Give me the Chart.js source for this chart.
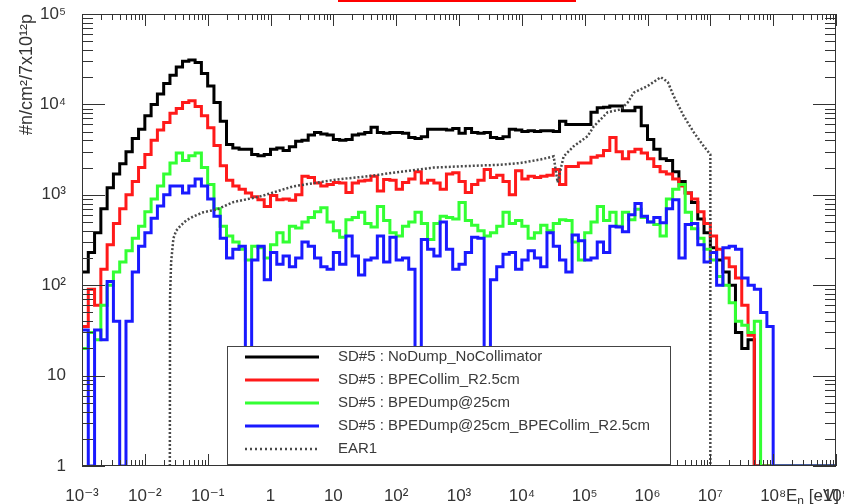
<!DOCTYPE html>
<html><head><meta charset="utf-8">
<script src="https://cdn.jsdelivr.net/npm/chart.js@4/dist/chart.umd.min.js"></script>
<style>html,body{margin:0;padding:0;background:#fff;}canvas{display:block;}</style>
</head><body>
<canvas id="c" width="844" height="504"></canvas>
<script>
// ---- binning of the histograms (log-spaced, 10 bins per decade from 1e-3 eV) ----
const firstEdge = 1e-3;
const binsPerDecade = 10;

// ---- series names ----
const seriesNames = [
  'SD#5 : NoDump_NoCollimator',
  'SD#5 : BPECollim_R2.5cm',
  'SD#5 : BPEDump@25cm',
  'SD#5 : BPEDump@25cm_BPECollim_R2.5cm',
  'EAR1'
];

// ---- flux per bin ----
const noDumpNoCollimator = [
  140,230,380,700,1200,1700,2200,3000,4200,5300,
  7500,10000,13000,17000,21000,26000,30000,31000,29000,22000,
  16000,10500,6500,3600,3300,3200,3200,2800,2700,2800,
  3200,3300,3100,3400,3900,4000,4600,4900,4700,4600,
  4100,4000,4100,4600,4700,4900,5600,4900,4800,4900,
  4900,4800,4300,4200,4400,5300,5300,5300,5200,5400,
  4800,5400,4900,4800,4900,4300,4200,4400,5300,5200,
  5000,5100,5000,5100,5100,5000,6500,6000,6000,6000,
  6000,8200,9200,9300,9600,9600,8500,8500,9300,5800,
  4100,3200,2500,2400,1800,1400,1050,820,540,380,
  260,190,140,100,30,20,25,1,1,1,
  1,1,1,1,1,1,1,1,1,1
];
const bpeCollim = [
  35,90,60,150,280,480,700,1000,1400,2000,
  2800,4000,5200,6300,8000,9000,10500,11000,9500,7500,
  5500,3500,2100,1450,1250,1150,1050,950,880,740,
  980,880,900,870,1000,1600,1550,1350,1250,1300,
  1370,1350,1060,1350,1420,1450,1600,1100,1480,1450,
  1150,1370,1500,1800,1350,1450,1350,1150,1700,1750,
  1400,1060,1300,1450,1900,1550,1650,1400,1000,1850,
  1500,1600,1550,1600,1650,1900,1300,2050,2050,2250,
  2250,2600,2700,3100,4300,3000,2500,3000,3200,2900,
  2500,2050,1800,1700,1500,1250,1050,900,650,480,
  350,250,200,160,120,60,28,1,1,1,
  1,1,1,1,1,1,1,1,1,1
];
const bpeDump = [
  20,30,25,60,100,140,180,240,330,450,
  650,900,1250,1700,2250,2900,2400,2700,2900,2000,
  1300,700,450,350,300,250,190,270,260,200,
  280,380,300,450,430,500,560,650,720,500,
  400,340,530,560,640,480,440,740,520,380,
  350,450,500,640,480,320,480,580,560,540,
  820,520,460,400,350,380,450,640,480,520,
  450,330,380,460,400,480,530,520,300,190,
  380,500,740,520,640,450,640,530,690,560,
  500,470,350,900,1150,1300,640,420,330,250,
  190,125,100,64,40,36,30,40,1,1,
  1,1,1,1,1,1,1,1,1,1
];
const bpeDumpCollim = [
  32,1,32,25,110,40,1,40,140,270,
  380,550,750,1000,1250,1250,1050,1250,1500,1250,
  900,580,330,200,250,270,1,190,270,115,
  230,170,210,160,200,300,270,200,160,150,
  230,170,350,210,130,190,200,350,180,340,
  190,200,150,1,320,250,210,500,250,150,
  170,230,340,330,1,115,160,220,230,150,
  190,240,200,160,380,270,190,140,360,310,
  190,200,300,230,450,440,390,600,800,580,
  500,560,490,700,880,200,470,480,280,180,
  230,100,260,270,250,120,100,90,50,35,
  1,1,1,1,1,1,1,1,1,1
];
// EAR1 reference spectrum (energy in eV, flux)
const ear1Energy = [0.025,0.0252,0.0262,0.0285,0.0315,0.0365,0.0454,0.0587,0.0848,0.1417,
  0.255,0.687,2.3,11.6,34.8,117,392,1366,4585,9550,
  19900,32060,37130,46280,66770,111600,139100,232500,374800,484500,
  603800,1.009e6,1.626e6,2.102e6,2.62e6,3.781e6,5.46e6,7.877e6,1e7,1e7];
const ear1Flux = [1,75,180,330,400,450,520,575,640,690,
  830,960,1240,1480,1600,1800,2000,2080,2150,2250,
  2460,2660,1370,2660,3440,4450,5700,8200,8800,10500,
  13500,16000,20000,17700,12300,7400,4900,3440,2800,1];

// ---- axis ticks ----
const xTickValues = [1e-3,1e-2,1e-1,1,10,1e2,1e3,1e4,1e5,1e6,1e7,1e8,1e9];
const xTickLabels = ['10\u207B\u00B3','10\u207B\u00B2','10\u207B\u00B9','1','10','10\u00B2','10\u00B3','10\u2074','10\u2075','10\u2076','10\u2077','10\u2078','10\u2079'];
const yTickValues = [1,10,1e2,1e3,1e4,1e5];
const yTickLabels = ['1','10','10\u00B2','10\u00B3','10\u2074','10\u2075'];

// ---- styles ----
const FONT = "'Liberation Sans', Arial, 'DejaVu Sans', sans-serif";
const seriesColors = ['#000000', '#ff1a1a', '#33ff33', '#1a1aff', '#4a4a4a'];

function binEdge(k) { return firstEdge * Math.pow(10, k / binsPerDecade); }
function histPoints(values) {
  const pts = values.map((v, k) => ({x: binEdge(k), y: v}));
  pts.push({x: binEdge(values.length), y: values[values.length - 1]});
  return pts;
}

const histSeries = [noDumpNoCollimator, bpeCollim, bpeDump, bpeDumpCollim];
const datasets = histSeries.map((vals, i) => ({
  label: seriesNames[i],
  data: histPoints(vals),
  borderColor: seriesColors[i],
  borderWidth: 3,
  stepped: 'before',
  pointRadius: 0,
  fill: false,
  order: 4 - i
}));
datasets.push({
  label: seriesNames[4],
  data: ear1Energy.map((e, i) => ({x: e, y: ear1Flux[i]})),
  borderColor: seriesColors[4],
  borderWidth: 2.5,
  borderDash: [2, 2],
  tension: 0,
  pointRadius: 0,
  fill: false,
  order: 0
});

const rootFrame = {
  id: 'rootFrame',
  afterDatasetsDraw(chart) {
    const ctx = chart.ctx, a = chart.chartArea;
    const xs = chart.scales.x, ys = chart.scales.y;
    ctx.save();
    ctx.strokeStyle = '#333';
    ctx.lineWidth = 1;
    ctx.strokeRect(Math.round(a.left) + 0.5, Math.round(a.top) + 0.5,
      Math.round(a.right - a.left) - 1, Math.round(a.bottom - a.top) - 1);
    ctx.beginPath();
    // x ticks (bottom and top)
    for (let d = -3; d <= 9; d++) {
      for (let m = 1; m <= 9; m++) {
        if (d === 9 && m > 1) break;
        const v = m * Math.pow(10, d);
        const px = Math.round(xs.getPixelForValue(v)) + 0.5;
        const len = m === 1 ? 12 : 6;
        ctx.moveTo(px, a.bottom); ctx.lineTo(px, a.bottom - len);
        ctx.moveTo(px, a.top); ctx.lineTo(px, a.top + len);
      }
    }
    // y ticks (left and right)
    for (let d = 0; d <= 5; d++) {
      for (let m = 1; m <= 9; m++) {
        if (d === 5 && m > 1) break;
        const v = m * Math.pow(10, d);
        const py = Math.round(ys.getPixelForValue(v)) + 0.5;
        const len = m === 1 ? 23 : 11;
        ctx.moveTo(a.left, py); ctx.lineTo(a.left + len, py);
        ctx.moveTo(a.right, py); ctx.lineTo(a.right - len, py);
      }
    }
    ctx.stroke();

    // legend box
    const L = {left: 227, top: 346, right: 670, bottom: 464};
    ctx.fillStyle = '#fff';
    ctx.fillRect(L.left, L.top, L.right - L.left, L.bottom - L.top);
    ctx.strokeStyle = '#444';
    ctx.strokeRect(L.left + 0.5, L.top + 0.5, L.right - L.left, L.bottom - L.top);
    ctx.font = '15px ' + FONT;
    ctx.textBaseline = 'middle';
    ctx.textAlign = 'left';
    chart.data.datasets.forEach((ds, i) => {
      const y = 357 + 23 * i;
      ctx.save();
      ctx.strokeStyle = ds.borderColor;
      ctx.lineWidth = ds.borderWidth;
      if (ds.borderDash) ctx.setLineDash([2, 3]);
      ctx.beginPath();
      ctx.moveTo(245, y); ctx.lineTo(319, y);
      ctx.stroke();
      ctx.restore();
      ctx.fillStyle = '#3a3a3a';
      ctx.fillText(ds.label, 338, y);
    });

    // x-axis title
    ctx.fillStyle = '#333';
    ctx.textBaseline = 'alphabetic';
    ctx.textAlign = 'right';
    ctx.font = '17px ' + FONT;
    const tail = ' [eV]';
    const tailW = ctx.measureText(tail).width;
    ctx.fillText(tail, 839, 501);
    ctx.font = '12px ' + FONT;
    const nW = ctx.measureText('n').width;
    ctx.fillText('n', 839 - tailW, 505);
    ctx.font = '17px ' + FONT;
    ctx.fillText('E', 839 - tailW - nW, 501);

    // red mark at top
    ctx.fillStyle = '#ff0000';
    ctx.fillRect(338, 0, 238, 2);
    ctx.restore();
  }
};

new Chart(document.getElementById('c'), {
  type: 'line',
  data: {datasets},
  options: {
    responsive: false,
    animation: false,
    layout: {padding: {top: 14, right: 8, left: 0, bottom: 0}},
    plugins: {legend: {display: false}, tooltip: {enabled: false}},
    scales: {
      x: {
        type: 'logarithmic',
        min: 1e-3, max: 1e9,
        grid: {display: false},
        border: {display: false},
        afterBuildTicks: s => { s.ticks = xTickValues.map(v => ({value: v})); },
        afterFit: s => { s.height = 38; s.paddingLeft = 0; s.paddingRight = 0; },
        ticks: {
          autoSkip: false, maxRotation: 0, minRotation: 0, padding: 12,
          color: '#333', font: {family: FONT, size: 17},
          callback: (v, i) => xTickLabels[i]
        }
      },
      y: {
        type: 'logarithmic',
        min: 1, max: 1e5,
        grid: {display: false},
        border: {display: false},
        afterBuildTicks: s => { s.ticks = yTickValues.map(v => ({value: v})); },
        afterFit: s => { s.width = 82; s.paddingTop = 0; s.paddingBottom = 0; },
        ticks: {
          autoSkip: false, padding: 8,
          color: '#333', font: {family: FONT, size: 17},
          callback: (v, i) => yTickLabels[i]
        },
        title: {
          display: true, text: '#n/cm\u00B2/7x10\u00B9\u00B2p', align: 'end',
          color: '#333', font: {family: FONT, size: 18},
          padding: {top: 16, bottom: 0}
        }
      }
    }
  },
  plugins: [rootFrame]
});
</script>
</body></html>
